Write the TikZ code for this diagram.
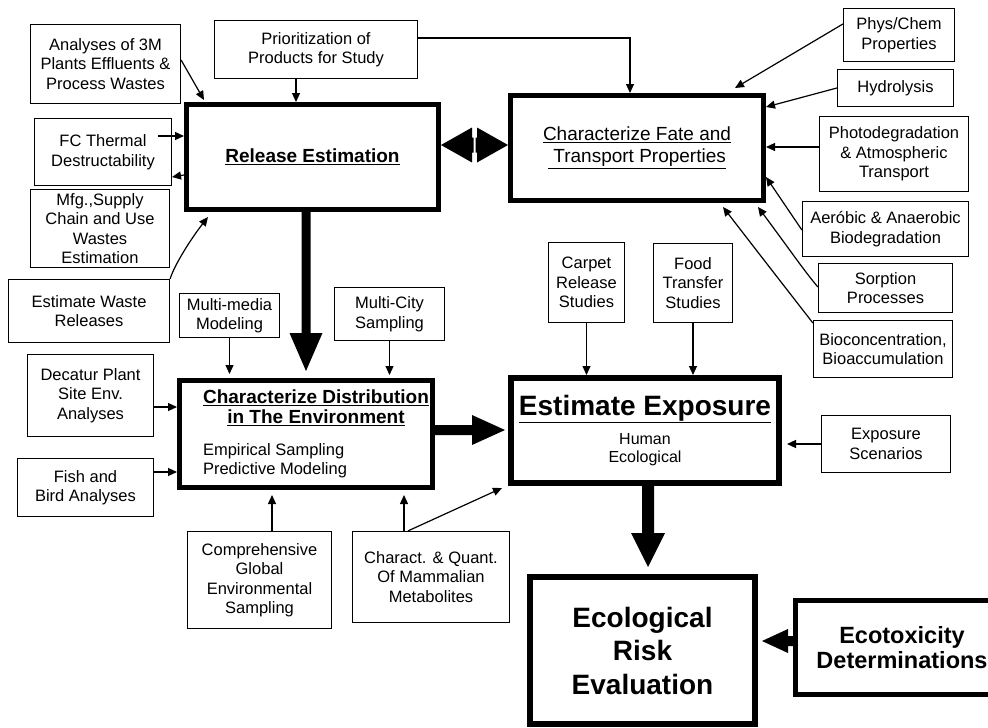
\documentclass[tikz,border=0pt]{standalone}
\usepackage{fontspec}
\setmainfont{Liberation Sans}
\usetikzlibrary{arrows.meta,calc}
\newcommand\myul[1]{\underline{#1}}
\begin{document}
\begin{tikzpicture}[x=1pt,y=-1pt,
  tbox/.style={draw, line width=1.2pt, inner sep=0pt, align=center, font=\fontsize{16.5}{19.5}\selectfont},
  kbox/.style={draw, line width=5pt, inner sep=0pt, align=center},
  arr/.style={line width=1.2pt, -{Triangle[length=9pt,width=8pt]}},
  bigarr/.style={fill=black, draw=none}
  ]
\fill[white] (0,0) rectangle (988,728);
\useasboundingbox (0,0) rectangle (988,728);

% left column
\node[tbox, minimum width=150pt, minimum height=79pt] (ana) at (105.5,64) {Analyses of 3M\\Plants Effluents \&\\Process Wastes};
\node[tbox, minimum width=203pt, minimum height=58pt] (pri) at (316,49.5) {Prioritization of\\Products for Study};
\node[tbox, minimum width=137pt, minimum height=67pt] (fc) at (103,152) {FC Thermal\\Destructability};
\node[tbox, minimum width=139pt, minimum height=78pt] (mfg) at (100,228.5) {Mfg.,Supply\\Chain and Use\\Wastes\\Estimation};
\node[tbox, minimum width=161pt, minimum height=63pt] (ewr) at (89,311) {Estimate Waste\\Releases};
\node[tbox, minimum width=100pt, minimum height=44pt] (mm) at (229.5,315.5) {Multi-media\\Modeling};
\node[tbox, minimum width=110pt, minimum height=53pt] (mc) at (389.5,314) {Multi-City\\Sampling};
\node[tbox, minimum width=126pt, minimum height=82pt] (dec) at (90.5,395.5) {Decatur Plant\\Site Env.\\Analyses};
\node[tbox, minimum width=136pt, minimum height=58pt] (fish) at (85.5,487.5) {Fish and\\Bird Analyses};
\node[tbox, minimum width=144pt, minimum height=97pt] (comp) at (259.5,580) {Comprehensive\\Global\\Environmental\\Sampling};
\node[tbox, minimum width=157pt, minimum height=91pt] (char) at (431,577) {Charact. \& Quant.\\Of Mammalian\\Metabolites};

% main boxes
\node[kbox, minimum width=252pt, minimum height=105pt, font=\fontsize{19}{22}\selectfont\bfseries] (rel) at (312.5,157) {\myul{Release Estimation}};
\node[kbox, minimum width=253pt, minimum height=105pt, font=\fontsize{19}{22}\selectfont] (fate) at (637,148) {\myul{Characterize Fate and}\\\myul{\ Transport Properties}};
\node[kbox, minimum width=253pt, minimum height=107pt] (dist) at (306,434) {\begin{minipage}{250pt}\centering\fontsize{19}{20}\selectfont\bfseries
  \hspace*{20pt}\myul{Characterize Distribution}\\\hspace*{20pt}\myul{in The Environment}\par\vspace{12pt}
  \raggedright\fontsize{16.5}{19.5}\selectfont\mdseries\hspace*{22pt}Empirical Sampling\\\hspace*{22pt}Predictive Modeling\par\end{minipage}};
\node[kbox, line width=6pt, minimum width=268pt, minimum height=105pt] (exp) at (645,430.5) {\begin{minipage}{262pt}\centering\fontsize{28}{30}\selectfont\bfseries\myul{Estimate Exposure}\par\vspace{10pt}
  \fontsize{16}{18}\selectfont\mdseries Human\\Ecological\par\end{minipage}};
\node[kbox, line width=6pt, minimum width=225pt, minimum height=147pt, font=\fontsize{28}{33.5}\selectfont\bfseries] (risk) at (642.5,650.5) {Ecological\\Risk\\Evaluation};
\node[kbox, minimum width=213pt, minimum height=94pt, font=\fontsize{23.5}{25}\selectfont\bfseries] (eco) at (902,647.5) {Ecotoxicity\\Determinations};

% right column
\node[tbox, minimum width=111pt, minimum height=53pt] (phys) at (899,35) {Phys/Chem\\Properties};
\node[tbox, minimum width=116pt, minimum height=37pt] (hyd) at (895.5,88) {Hydrolysis};
\node[tbox, minimum width=149pt, minimum height=75pt] (photo) at (894,154) {Photodegradation\\\& Atmospheric\\Transport};
\node[tbox, minimum width=166pt, minimum height=55pt] (aer) at (885.5,229) {Aeróbic \& Anaerobic\\Biodegradation};
\node[tbox, minimum width=134pt, minimum height=49pt] (sorp) at (885.5,288) {Sorption\\Processes};
\node[tbox, minimum width=139pt, minimum height=57pt] (bio) at (883,349) {Bioconcentration,\\Bioaccumulation};
\node[tbox, minimum width=76pt, minimum height=80pt] (carpet) at (586.5,282.5) {Carpet\\Release\\Studies};
\node[tbox, minimum width=79pt, minimum height=79pt] (food) at (693,283) {Food\\Transfer\\Studies};
\node[tbox, minimum width=129pt, minimum height=57pt] (scen) at (886,444) {Exposure\\Scenarios};

% thin connectors
\coordinate (fcA) at (158,136);
\coordinate (fcB) at (172,177);
\draw[arr] (ana.east |- 0,60) -- ($(rel.north west)+(20,-2)$);
\draw[arr] (pri.south -| 296,0) -- (rel.north -| 296,0);
\draw[arr] (pri.east |- 0,38) -| (fate.north -| 630,0);
\draw[arr] (fcA) -- (rel.west |- fcA);
\draw[arr] (rel.west |- 0,175) -- (fcB);
\draw[arr] (ewr.north east) .. controls (174,266) and (190,240) .. ($(rel.south west)+(24,5)$);
\draw[arr, shorten >=4pt] (mm.south) -- (mm.south |- dist.north);
\draw[arr, shorten >=3pt] (mc.south) -- (mc.south |- dist.north);
\draw[arr] (dec.east |- 0,407) -- (dist.west |- 0,407);
\draw[arr] (fish.east |- 0,472) -- (dist.west |- 0,472);
\draw[arr, shorten >=5pt] (comp.north -| 272,0) -- (dist.south -| 272,0);
\draw[arr, shorten >=5pt] (char.north -| 404,0) -- (dist.south -| 404,0);
\draw[arr] (char.north -| 408,0) -- ($(exp.south west)+(-6,2)$);
\draw[arr] (phys.west |- 0,24) -- ($(fate.north east)+(-31,-5)$);
\draw[arr] (hyd.west) -- (fate.east |- 0,107);
\draw[arr] (photo.west |- 0,147) -- (fate.east |- 0,147);
\draw[arr] (aer.west |- 0,230) -- (fate.east |- 0,177);
\draw[arr] (sorp.west |- 0,287) .. controls (805,272) and (790,250) .. ($(fate.south east)+(-8,4)$);
\draw[arr] (bio.west |- 0,323) .. controls (795,300) and (760,255) .. ($(fate.south)+(86,4)$);
\draw[arr] (carpet.south) -- (carpet.south |- exp.north);
\draw[arr] (food.south) -- (food.south |- exp.north);
\draw[arr, shorten >=5pt] (scen.west) -- (exp.east |- scen.west);

% thick arrows
\fill[bigarr] (rel.south -| 306,0) ++(-4.5,0) -- ++(0,121) -- ++(-12,0) -- ++(16.5,38) -- ++(16.5,-38) -- ++(-12,0) -- ++(0,-121) -- cycle;
\fill[bigarr] (dist.east |- 0,430) ++(0,-5) -- ++(37,0) -- ++(0,-10) -- ++(33,15) -- ++(-33,15) -- ++(0,-10) -- ++(-37,0) -- cycle;
\fill[bigarr] (exp.south -| 648,0) ++(-6,0) -- ++(0,47) -- ++(-11,0) -- ++(17,34) -- ++(17,-34) -- ++(-11,0) -- ++(0,-47) -- cycle;
\fill[bigarr] (eco.west |- 0,641) ++(0,-5) -- ++(-5,0) -- ++(0,-7) -- ++(-26,12) -- ++(26,12) -- ++(0,-7) -- ++(5,0) -- cycle;
\fill[bigarr] (rel.east |- 0,145) -- ++(31,-17.5) -- ++(0,10) -- ++(1.5,0) -- ++(0,15) -- ++(-1.5,0) -- ++(0,10) -- cycle;
\fill[bigarr] (fate.west |- 0,145) -- ++(-31,-17.5) -- ++(0,10) -- ++(-1.5,0) -- ++(0,15) -- ++(1.5,0) -- ++(0,10) -- cycle;
\end{tikzpicture}
\end{document}
